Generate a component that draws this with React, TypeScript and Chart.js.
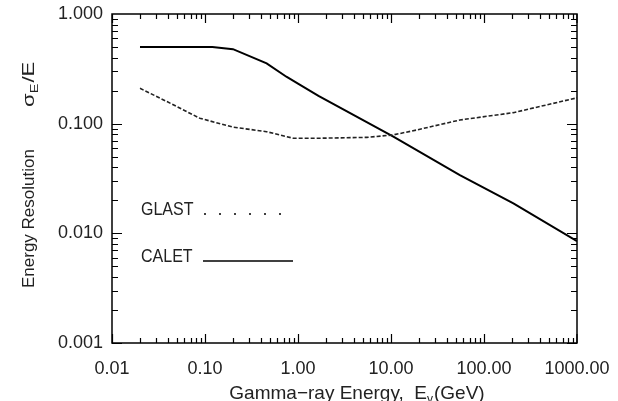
import React, { useEffect, useRef } from 'react';
import { Chart, registerables } from 'chart.js';

Chart.register(...registerables);

// ---- data ----
const SERIES_NAMES = ['GLAST', 'CALET'];
const ENERGY_GLAST = [0.02, 0.039, 0.088, 0.2, 0.46, 0.89, 1.6, 5.5, 10.6, 18.9, 55, 207, 1000];
const RES_GLAST = [0.21, 0.159, 0.112, 0.093, 0.0845, 0.0736, 0.0736, 0.075, 0.079, 0.0876, 0.108, 0.126, 0.172];
const ENERGY_CALET = [0.02, 0.12, 0.2, 0.46, 0.75, 1.0, 1.66, 10.6, 55, 207, 1000];
const RES_CALET = [0.5, 0.5, 0.478, 0.355, 0.268, 0.232, 0.179, 0.076, 0.034, 0.0188, 0.0085];

const X_TICKS = [0.01, 0.1, 1, 10, 100, 1000];
const X_TICK_LABELS = ['0.01', '0.10', '1.00', '10.00', '100.00', '1000.00'];
const Y_TICKS = [0.001, 0.01, 0.1, 1];
const Y_TICK_LABELS = ['0.001', '0.010', '0.100', '1.000'];

const X_TITLE_MAIN = 'Gamma\u2212ray Energy,  E';
const X_TITLE_SUB = '\u03b3';
const X_TITLE_UNIT = '(GeV)';
const Y_TITLE_MAIN = 'Energy Resolution';
const Y_TITLE_SIGMA = '\u03c3';
const Y_TITLE_SUB = 'E';
const Y_TITLE_TAIL = '/E';

const FONT = '"Liberation Sans", Arial, Helvetica, sans-serif';
const TEXT = '#222';

const toPoints = (xs: number[], ys: number[]) => xs.map((x, i) => ({ x, y: ys[i] }));

const framePlugin = {
  id: 'frame',
  afterDraw(chart: any) {
    const { ctx, chartArea, scales } = chart;
    const { left, right, top, bottom } = chartArea;
    const xs = scales.x;
    const ys = scales.y;
    ctx.save();
    // box
    ctx.strokeStyle = '#000';
    ctx.lineWidth = 1.5;
    ctx.strokeRect(left, top, right - left, bottom - top);
    // inward ticks
    ctx.lineWidth = 1.2;
    ctx.beginPath();
    for (let k = -2; k <= 2; k++) {
      for (let m = 1; m <= 9; m++) {
        const v = m * Math.pow(10, k);
        const px = Math.round(xs.getPixelForValue(v)) + 0.5;
        const len = m === 1 ? 9 : 5;
        ctx.moveTo(px, bottom);
        ctx.lineTo(px, bottom - len);
        ctx.moveTo(px, top);
        ctx.lineTo(px, top + len);
      }
    }
    const last = xs.getPixelForValue(1000);
    ctx.moveTo(last, bottom); ctx.lineTo(last, bottom - 9);
    ctx.moveTo(last, top); ctx.lineTo(last, top + 9);
    for (let k = -3; k <= -1; k++) {
      for (let m = 1; m <= 9; m++) {
        const v = m * Math.pow(10, k);
        const py = Math.round(ys.getPixelForValue(v)) + 0.5;
        const len = m === 1 ? 10 : 6;
        ctx.moveTo(left, py);
        ctx.lineTo(left + len, py);
        ctx.moveTo(right, py);
        ctx.lineTo(right - len, py);
      }
    }
    ctx.stroke();

    // legend
    ctx.fillStyle = TEXT;
    ctx.font = `16px ${FONT}`;
    ctx.textAlign = 'left';
    ctx.textBaseline = 'alphabetic';
    const legendRows = [
      { y: 215, dash: [2, 13], width: 1.6, x0: 204, x1: 292 },
      { y: 262, dash: [], width: 1.6, x0: 203, x1: 293 },
    ];
    legendRows.forEach((row, i) => {
      ctx.save();
      ctx.translate(141, row.y);
      ctx.scale(1, 1.2);
      ctx.fillText(SERIES_NAMES[i], 0, 0);
      ctx.restore();
      ctx.save();
      ctx.strokeStyle = '#000';
      ctx.lineWidth = row.width;
      ctx.setLineDash(row.dash);
      ctx.beginPath();
      ctx.moveTo(row.x0, row.y - 1);
      ctx.lineTo(row.x1, row.y - 1);
      ctx.stroke();
      ctx.restore();
    });

    // x title
    ctx.font = `19px ${FONT}`;
    const wMain = ctx.measureText(X_TITLE_MAIN).width;
    ctx.font = `12px ${FONT}`;
    const wSub = ctx.measureText(X_TITLE_SUB).width;
    ctx.font = `19px ${FONT}`;
    const wUnit = ctx.measureText(X_TITLE_UNIT).width;
    const total = wMain + wSub + 1 + wUnit;
    let tx = 357 - total / 2;
    const ty = 399;
    ctx.fillText(X_TITLE_MAIN, tx, ty);
    tx += wMain;
    ctx.font = `12px ${FONT}`;
    ctx.fillText(X_TITLE_SUB, tx, ty + 4);
    tx += wSub + 1;
    ctx.font = `19px ${FONT}`;
    ctx.fillText(X_TITLE_UNIT, tx, ty);

    // y title (rotated)
    ctx.save();
    ctx.translate(34, 288);
    ctx.rotate(-Math.PI / 2);
    ctx.font = `17px ${FONT}`;
    ctx.fillText(Y_TITLE_MAIN, 0, 0);
    ctx.translate(181, 0);
    ctx.scale(1.3, 1);
    let ox = 0;
    ctx.font = `17px ${FONT}`;
    ctx.fillText(Y_TITLE_SIGMA, ox, 0);
    ox += ctx.measureText(Y_TITLE_SIGMA).width;
    ctx.font = `11px ${FONT}`;
    ctx.fillText(Y_TITLE_SUB, ox, 4);
    ox += ctx.measureText(Y_TITLE_SUB).width + 1;
    ctx.font = `17px ${FONT}`;
    ctx.fillText(Y_TITLE_TAIL, ox, 0);
    ctx.restore();

    ctx.restore();
  },
};

export default function App() {
  const canvasRef = useRef<HTMLCanvasElement | null>(null);

  useEffect(() => {
    document.body.style.margin = '0';
    const canvas = canvasRef.current;
    if (!canvas) return;
    const chart = new Chart(canvas, {
      type: 'scatter',
      data: {
        datasets: [
          {
            label: SERIES_NAMES[0],
            data: toPoints(ENERGY_GLAST, RES_GLAST),
            showLine: true,
            borderColor: '#222',
            borderWidth: 1.6,
            borderDash: [4, 2],
            pointRadius: 0,
            tension: 0,
          },
          {
            label: SERIES_NAMES[1],
            data: toPoints(ENERGY_CALET, RES_CALET),
            showLine: true,
            borderColor: '#000',
            borderWidth: 2,
            pointRadius: 0,
            tension: 0,
          },
        ],
      },
      options: {
        animation: false,
        responsive: true,
        maintainAspectRatio: false,
        layout: { padding: { top: 14, right: 41, left: 0, bottom: 0 } },
        plugins: { legend: { display: false }, tooltip: { enabled: false } },
        scales: {
          x: {
            type: 'logarithmic',
            min: 0.01,
            max: 1000,
            afterBuildTicks: (s: any) => {
              s.ticks = X_TICKS.map((v) => ({ value: v }));
            },
            afterFit: (s: any) => {
              s.height = 58;
              s.paddingLeft = 0;
              s.paddingRight = 0;
              s.paddingTop = 0;
              s.paddingBottom = 0;
            },
            grid: { display: false, drawTicks: false },
            border: { display: false },
            ticks: {
              autoSkip: false,
              maxRotation: 0,
              padding: 15,
              color: TEXT,
              font: { family: FONT, size: 18 },
              callback: (_v: any, i: number) => X_TICK_LABELS[i],
            },
          },
          y: {
            type: 'logarithmic',
            min: 0.001,
            max: 1,
            afterBuildTicks: (s: any) => {
              s.ticks = Y_TICKS.map((v) => ({ value: v }));
            },
            afterFit: (s: any) => {
              s.width = 112;
              s.paddingLeft = 0;
              s.paddingRight = 0;
              s.paddingTop = 0;
              s.paddingBottom = 0;
            },
            grid: { display: false, drawTicks: false },
            border: { display: false },
            ticks: {
              autoSkip: false,
              padding: 9,
              color: TEXT,
              font: { family: FONT, size: 18 },
              callback: (_v: any, i: number) => Y_TICK_LABELS[i],
            },
          },
        },
      },
      plugins: [framePlugin],
    } as any);
    return () => chart.destroy();
  }, []);

  return (
    <div style={{ position: 'absolute', left: 0, top: 0, width: 618, height: 401, background: '#fff' }}>
      <canvas ref={canvasRef} />
    </div>
  );
}
